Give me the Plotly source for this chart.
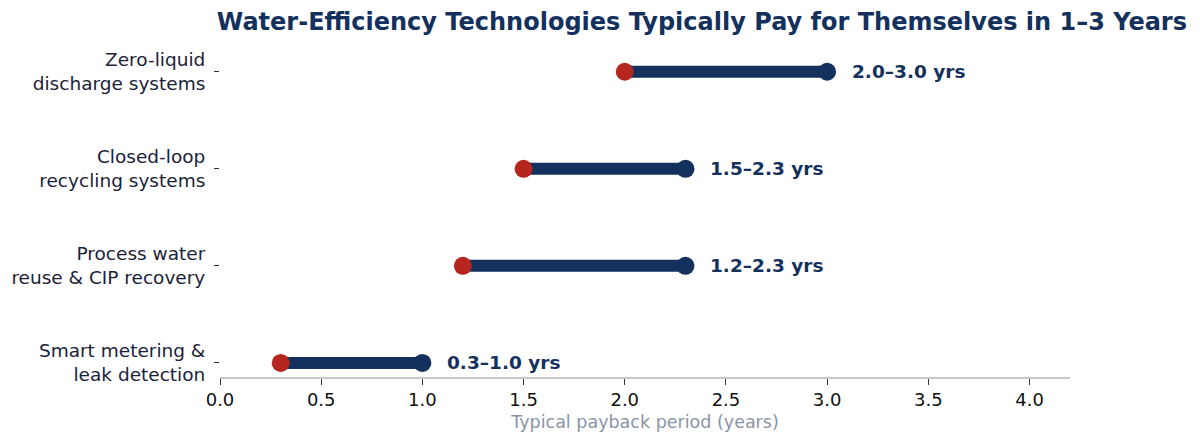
import plotly.graph_objects as go

technologies = [
    "Smart metering &<br>leak detection",
    "Process water<br>reuse & CIP recovery",
    "Closed-loop<br>recycling systems",
    "Zero-liquid<br>discharge systems",
]
payback_low = [0.3, 1.2, 1.5, 2.0]
payback_high = [1.0, 2.3, 2.3, 3.0]
x_ticks = [0.0, 0.5, 1.0, 1.5, 2.0, 2.5, 3.0, 3.5, 4.0]

navy = "#13315c"
red = "#b5261e"

fig = go.Figure()

for tech, lo, hi in zip(technologies, payback_low, payback_high):
    fig.add_trace(go.Scatter(
        x=[lo, hi], y=[tech, tech], mode="lines",
        line=dict(color=navy, width=12), hoverinfo="skip",
    ))

fig.add_trace(go.Scatter(
    x=payback_high, y=technologies, mode="markers",
    marker=dict(color=navy, size=18),
))
fig.add_trace(go.Scatter(
    x=payback_low, y=technologies, mode="markers",
    marker=dict(color=red, size=18),
))

for tech, lo, hi in zip(technologies, payback_low, payback_high):
    fig.add_annotation(
        x=hi, y=tech, text=f"<b>{lo:.1f}–{hi:.1f} yrs</b>",
        showarrow=False, xanchor="left", xshift=23,
        font=dict(size=18.5, color=navy, family="DejaVu Sans"),
    )

# page body has an 8px margin, so the figure is shifted by 8px
fig.update_layout(
    width=1200, height=445,
    margin=dict(l=212, r=138, t=22, b=76),
    plot_bgcolor="white", paper_bgcolor="white",
    showlegend=False,
    font=dict(family="DejaVu Sans", size=18, color="#1a2238"),
    title=dict(
        text="<b>Water-Efficiency Technologies Typically Pay for Themselves in 1–3 Years</b>",
        x=0.9825, xanchor="right", xref="container",
        y=1 - 14 / 445, yanchor="middle", yref="container",
        font=dict(size=24, color=navy, family="DejaVu Sans"),
        automargin=False,
    ),
)

fig.update_xaxes(
    range=[0, 4.2], tickvals=x_ticks, ticktext=[f"{v:.1f}" for v in x_ticks],
    showgrid=False, zeroline=False, automargin=False,
    showline=True, linecolor="#c8c8c8", linewidth=1.5,
    ticks="outside", ticklen=6, tickcolor="#333333",
    tickfont=dict(size=18, color="#111111"),
    title=dict(text="Typical payback period (years)", font=dict(size=17.5, color="#8a94a6"), standoff=6),
)
fig.update_yaxes(
    type="category", categoryorder="array", categoryarray=technologies,
    range=[-0.145, 3.43],
    showgrid=False, zeroline=False, showline=False, automargin=False,
    ticks="outside", ticklen=5, tickcolor="#333333", ticklabelstandoff=5,
    tickfont=dict(size=18.5, color="#1a2238"),
)

fig.write_html("out.html")
